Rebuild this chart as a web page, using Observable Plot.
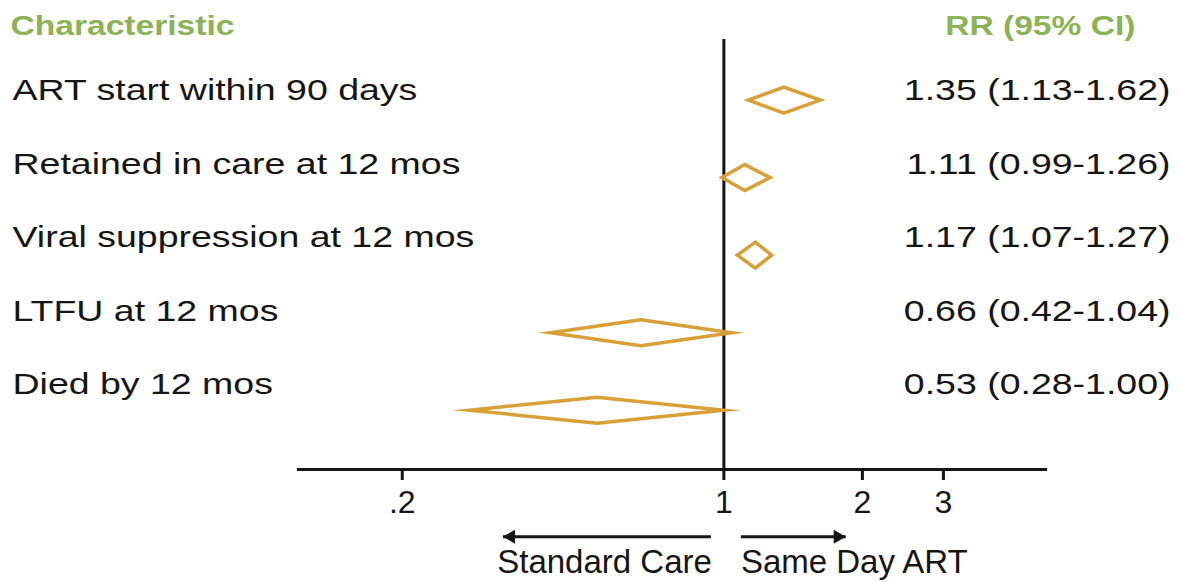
<!DOCTYPE html>
<html><head><meta charset="utf-8">
<script src="https://cdn.jsdelivr.net/npm/d3@7"></script>
<script src="https://cdn.jsdelivr.net/npm/@observablehq/plot@0.6"></script>
<style>
html,body{margin:0;padding:0;background:#fff;}
#chart{width:1181px;height:582px;overflow:hidden;}
</style></head><body><div id="chart"></div>
<script>
// ---- data ----
const characteristics = [
  "ART start within 90 days",
  "Retained in care at 12 mos",
  "Viral suppression at 12 mos",
  "LTFU at 12 mos",
  "Died by 12 mos"
];
const rr     = [1.35, 1.11, 1.17, 0.66, 0.53];
const ciLow  = [1.13, 0.99, 1.07, 0.42, 0.28];
const ciHigh = [1.62, 1.26, 1.27, 1.04, 1.00];
const tickValues = [0.2, 1, 2, 3];
const tickLabels = [".2", "1", "2", "3"];
const headers = ["Characteristic", "RR (95% CI)"];
const directionLabels = ["Standard Care", "Same Day ART"];
const arrowFrom = [0.937, 1.089];
const arrowTo   = [0.331, 1.84];

// ---- layout / style ----
const W = 1181, H = 582;
const GREEN = "#8cb356", GOLD = "#d9a037", INK = "#151515";
const DIAMOND_Y0 = 0.13, DIAMOND_STEP = 1.055, HALF = 0.177;
const ARROW_LANE = 6.07;

const rows = characteristics.map((c, i) => ({
  c, i, rr: rr[i], lo: ciLow[i], hi: ciHigh[i],
  label: `${rr[i].toFixed(2)} (${ciLow[i].toFixed(2)}-${ciHigh[i].toFixed(2)})`
}));
const diamondPts = rows.flatMap(d => {
  const yc = DIAMOND_Y0 + DIAMOND_STEP * d.i;
  return [
    {c: d.c, x: d.lo, y: yc},
    {c: d.c, x: d.rr, y: yc - HALF},
    {c: d.c, x: d.hi, y: yc},
    {c: d.c, x: d.rr, y: yc + HALF}
  ];
});

const plot = Plot.plot({
  width: W, height: H,
  marginLeft: 298, marginRight: 136, marginTop: 39, marginBottom: 113,
  style: {fontFamily: "'Liberation Sans', Arial, sans-serif", background: "#fff", color: INK},
  x: {type: "log", domain: [0.119, 5.0], axis: null},
  y: {domain: [0, 4], range: [90, 384], axis: null},
  marks: [
    Plot.frame({anchor: "bottom", stroke: INK, strokeWidth: 3}),
    Plot.ruleX([1], {stroke: INK, strokeWidth: 3}),
    Plot.axisX({
      ticks: tickValues,
      tickFormat: d => tickLabels[tickValues.indexOf(d)],
      tickSize: 11, tickPadding: 10, fontSize: 32, strokeWidth: 3,
      stroke: INK, fill: INK, label: null
    }),
    Plot.line(diamondPts, {
      x: "x", y: "y", z: "c", curve: "linear-closed",
      stroke: GOLD, strokeWidth: 3.5, fill: "none",
      strokeLinejoin: "miter", strokeMiterlimit: 40
    }),
    Plot.text(rows, {y: "i", text: "c", frameAnchor: "left", textAnchor: "start", dx: -286,
      fontSize: 30, fill: INK, className: "stretch"}),
    Plot.text(rows, {y: "i", text: "label", frameAnchor: "right", textAnchor: "end", dx: 125,
      fontSize: 30, fill: INK, className: "stretch"}),
    Plot.text([headers[0]], {text: d => d, frameAnchor: "top-left", textAnchor: "start", lineAnchor: "middle",
      dx: -288, dy: -13, fontSize: 28, fontWeight: "bold", fill: GREEN, className: "stretch-h"}),
    Plot.text([headers[1]], {text: d => d, frameAnchor: "top-right", textAnchor: "end", lineAnchor: "middle",
      dx: 90, dy: -13, fontSize: 28, fontWeight: "bold", fill: GREEN, className: "stretch-h"}),
    Plot.link([0, 1], {x1: i => arrowFrom[i], x2: i => arrowTo[i], y1: ARROW_LANE, y2: ARROW_LANE,
      stroke: INK, strokeWidth: 3}),
    Plot.dot([0], {x: i => arrowTo[i], y: ARROW_LANE, symbol: "triangle", rotate: -90, r: 5.2,
      fill: INK, stroke: "none", dx: 8}),
    Plot.dot([1], {x: i => arrowTo[i], y: ARROW_LANE, symbol: "triangle", rotate: 90, r: 5.2,
      fill: INK, stroke: "none", dx: -8}),
    Plot.text([0], {x: () => 1, text: () => directionLabels[0], frameAnchor: "bottom", textAnchor: "end",
      lineAnchor: "middle", dx: -12, dy: 93, fontSize: 33, fill: INK}),
    Plot.text([1], {x: () => 1, text: () => directionLabels[1], frameAnchor: "bottom", textAnchor: "start",
      lineAnchor: "middle", dx: 17, dy: 93, fontSize: 33, fill: INK})
  ]
});

function stretch(sel, s) {
  plot.querySelectorAll(sel).forEach(t => {
    const x = +t.getAttribute("x") || 0, y = +t.getAttribute("y") || 0;
    const tr = t.getAttribute("transform") || "";
    t.setAttribute("transform", `${tr} translate(${x},${y}) scale(${s},1) translate(${-x},${-y})`);
  });
}
stretch(".stretch text", 1.25);
stretch(".stretch-h text", 1.2);

document.getElementById("chart").appendChild(plot);
</script>
</body></html>
